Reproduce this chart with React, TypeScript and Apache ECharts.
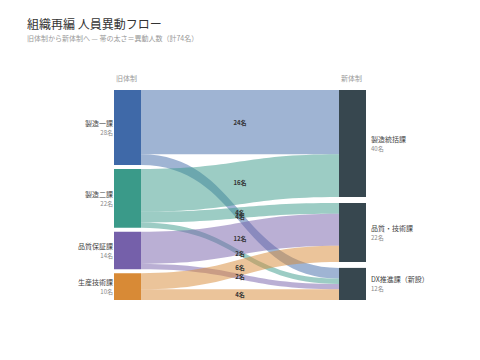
import React, { useEffect, useRef } from "react";
import * as echarts from "echarts";

const oldUnits = ["製造一課", "製造二課", "品質保証課", "生産技術課"];
const oldCounts = [28, 22, 14, 10];
const oldColors = ["#3F69A8", "#3A9A89", "#7560AA", "#D88A36"];
const newUnits = ["製造統括課", "品質・技術課", "DX推進課（新設）"];
const newCounts = [40, 22, 12];
const newColor = "#37474F";
const flowSources = ["製造一課", "製造一課", "製造二課", "製造二課", "製造二課", "品質保証課", "品質保証課", "生産技術課", "生産技術課"];
const flowTargets = ["製造統括課", "DX推進課（新設）", "製造統括課", "品質・技術課", "DX推進課（新設）", "品質・技術課", "DX推進課（新設）", "品質・技術課", "DX推進課（新設）"];
const flowValues = [24, 4, 16, 4, 2, 12, 2, 6, 4];

const FONT = "'Noto Sans CJK JP', 'Noto Sans', sans-serif";

export default function App() {
  const ref = useRef<HTMLDivElement>(null);
  useEffect(() => {
    const chart = echarts.init(ref.current!, undefined, { renderer: "svg" });
    const H = 210;
    const GAP = 4;
    const ky = (H - GAP * (oldCounts.length - 1)) / oldCounts.reduce((a, b) => a + b, 0);
    const rightGap = (H - ky * newCounts.reduce((a, b) => a + b, 0)) / (newCounts.length - 1);
    const rightTops: number[] = [];
    let acc = 0;
    newCounts.forEach((c) => {
      rightTops.push(acc / H);
      acc += c * ky + rightGap;
    });
    const rich = {
      n: { fontSize: 7, color: "#444", fontFamily: FONT, lineHeight: 10 },
      v: { fontSize: 6, color: "#888", fontFamily: FONT, lineHeight: 9 },
    };
    const nodes = [
      ...oldUnits.map((name, i) => ({
        name,
        itemStyle: { color: oldColors[i] },
        label: {
          position: "left",
          align: "right",
          distance: 1,
          formatter: () => `{n|${name}}\n{v|${oldCounts[i]}名}`,
          rich: { n: { ...rich.n, align: "right" }, v: { ...rich.v, align: "right" } },
        },
      })),
      ...newUnits.map((name, i) => ({
        name,
        localY: rightTops[i],
        itemStyle: { color: newColor },
        label: {
          position: "right",
          align: "left",
          distance: 5,
          formatter: () => `{n|${name}}\n{v|${newCounts[i]}名}`,
          rich: { n: { ...rich.n, align: "left" }, v: { ...rich.v, align: "left" } },
        },
      })),
    ];
    const links = flowValues.map((v, i) => ({ source: flowSources[i], target: flowTargets[i], value: v }));
    chart.setOption({
      animation: false,
      textStyle: { fontFamily: FONT },
      title: {
        text: "組織再編 人員異動フロー",
        subtext: "旧体制から新体制へ — 帯の太さ＝異動人数（計74名）",
        left: 22,
        top: 12,
        itemGap: 5,
        textStyle: { fontSize: 12, fontWeight: "normal", color: "#333", fontFamily: FONT },
        subtextStyle: { fontSize: 7, color: "#999", fontFamily: FONT },
      },
      graphic: [
        { type: "text", left: 116, top: 74, style: { text: "旧体制", fontSize: 7, fill: "#999", fontFamily: FONT } },
        { type: "text", left: 341, top: 74, style: { text: "新体制", fontSize: 7, fill: "#999", fontFamily: FONT } },
      ],
      series: [
        {
          type: "sankey",
          left: 114,
          right: 114,
          top: 90,
          bottom: 60,
          nodeWidth: 27,
          nodeGap: GAP,
          layoutIterations: 0,
          draggable: false,
          emphasis: { disabled: true },
          data: nodes,
          links,
          lineStyle: { color: "source", opacity: 0.5, curveness: 0.5 },
          label: { fontFamily: FONT },
          edgeLabel: {
            show: true,
            formatter: (p: any) => `${p.value}名`,
            fontSize: 6,
            fontWeight: "bold",
            color: "#333",
            fontFamily: FONT,
          },
        },
      ],
    });
    return () => chart.dispose();
  }, []);
  return <div ref={ref} style={{ width: 480, height: 360, margin: -8 }} />;
}
